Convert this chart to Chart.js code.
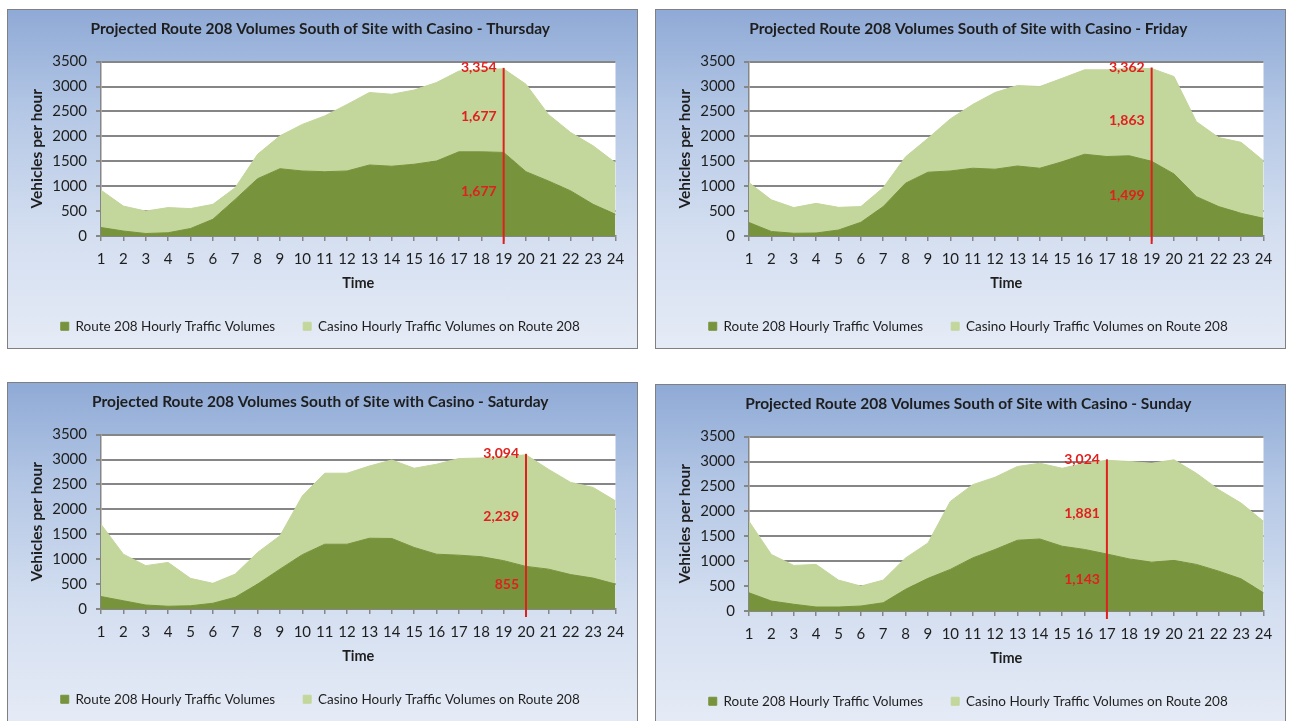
<!DOCTYPE html>
<html>
<head>
<meta charset="utf-8">
<title>Projected Route 208 Volumes South of Site with Casino</title>
<script src="https://cdn.jsdelivr.net/npm/chart.js@4.4.1/dist/chart.umd.min.js"></script>
<style>
  html, body { margin: 0; padding: 0; background: #fff; width: 1293px; height: 721px; overflow: hidden; }
  .panel {
    position: absolute; width: 629px; height: 338px;
    border: 1.5px solid #808080;
    background: linear-gradient(to bottom, #8faad6 0%, #b4c7e5 30%, #d3def0 65%, #e5ebf6 100%);
  }
  .panel canvas { position: absolute; left: 0; top: 0; }
</style>
</head>
<body>
<div class="panel" style="left:7px;top:9px"><canvas id="chart-0" width="629" height="338"></canvas></div>
<div class="panel" style="left:655px;top:9px"><canvas id="chart-1" width="629" height="338"></canvas></div>
<div class="panel" style="left:7px;top:382px"><canvas id="chart-2" width="629" height="338"></canvas></div>
<div class="panel" style="left:655px;top:384px"><canvas id="chart-3" width="629" height="338"></canvas></div>

<script>
/* Four stacked area charts, one per day.
   (vehicles per hour); casino volumes sit on top of the Route 208 volumes. */
const hours = ["1","2","3","4","5","6","7","8","9","10","11","12",
               "13","14","15","16","17","18","19","20","21","22","23","24"];

const thuRoute  = [170,100,50,65,150,335,735,1150,1350,1305,1290,1305,1425,1400,1440,1505,1690,1690,1677,1290,1105,905,635,435];
const thuCasino = [750,500,450,505,400,300,235,490,660,935,1120,1335,1455,1445,1490,1575,1620,1650,1677,1755,1335,1170,1175,1035];

const friRoute  = [270,90,55,60,120,275,590,1060,1280,1305,1360,1340,1405,1360,1490,1640,1595,1610,1499,1245,790,590,455,355];
const friCasino = [800,635,515,595,455,315,380,530,680,1045,1280,1540,1615,1640,1675,1695,1740,1755,1863,1955,1505,1385,1425,1155];

const satRoute  = [250,165,80,55,65,115,235,500,800,1090,1300,1300,1420,1415,1235,1100,1080,1050,970,855,800,690,620,500];
const satCasino = [1450,935,790,880,550,400,465,635,670,1180,1425,1425,1450,1575,1590,1805,1940,1980,2090,2239,2005,1850,1820,1670];

const sunRoute  = [365,200,135,80,80,100,165,435,655,835,1065,1235,1420,1445,1300,1235,1143,1045,980,1015,935,800,645,365];
const sunCasino = [1435,935,780,855,540,400,455,630,710,1365,1470,1450,1480,1520,1565,1730,1881,1955,1985,2020,1830,1635,1520,1435];

const days        = ["Thursday", "Friday", "Saturday", "Sunday"];
const routeByDay  = [thuRoute, friRoute, satRoute, sunRoute];
const casinoByDay = [thuCasino, friCasino, satCasino, sunCasino];
const markerHours = [19, 19, 20, 17];   // hour with the red peak line

const Y_MAX  = 3500;
const Y_STEP = 500;

const DARK_GREEN  = "#77933c";
const LIGHT_GREEN = "#c3d69b";
const RED         = "#e0201e";
const GRID_GRAY   = "#868686";
const INK         = "#1e1e1e";
const FONT        = "Lato, 'Open Sans', sans-serif";

/* ---------- plugins ---------- */

// white plot area on top of the panel gradient
const plotBackground = {
  id: "plotBackground",
  beforeDraw(chart) {
    const {ctx, chartArea: a} = chart;
    ctx.save();
    ctx.fillStyle = "#ffffff";
    ctx.fillRect(a.left, a.top, a.right - a.left, a.bottom - a.top);
    ctx.restore();
  }
};

// red vertical line at the peak hour with the three value labels
const peakMarker = {
  id: "peakMarker",
  afterDatasetsDraw(chart, args, opts) {
    const {ctx, scales: {x, y}} = chart;
    const i = opts.index;
    const route = chart.data.datasets[0].data[i];
    const casino = chart.data.datasets[1].data[i];
    const total = route + casino;
    const px = x.getPixelForValue(i);
    const fmt = v => v.toLocaleString("en-US");

    ctx.save();
    ctx.strokeStyle = RED;
    ctx.lineWidth = 2;
    ctx.beginPath();
    ctx.moveTo(px, y.getPixelForValue(total) - 1);
    ctx.lineTo(px, y.bottom + 8);
    ctx.stroke();

    ctx.fillStyle = RED;
    ctx.font = "bold 14px " + FONT;
    ctx.textAlign = "right";
    ctx.textBaseline = "middle";
    ctx.fillText(fmt(total), px - 7, y.getPixelForValue(total) - 1);
    ctx.fillText(fmt(casino), px - 7, y.getPixelForValue(route + casino / 2) + 6);
    ctx.fillText(fmt(route), px - 7, y.getPixelForValue(route / 2) - 3);
    ctx.restore();
  }
};

/* ---------- charts ---------- */

function makeChart(n) {
  const ctx = document.getElementById("chart-" + n).getContext("2d");
  return new Chart(ctx, {
    type: "line",
    data: {
      labels: hours,
      datasets: [
        {
          label: "Route 208 Hourly Traffic Volumes",
          data: routeByDay[n],
          backgroundColor: DARK_GREEN,
          borderColor: DARK_GREEN,
          borderWidth: 1,
          pointRadius: 0,
          fill: "origin",
        },
        {
          label: "Casino Hourly Traffic Volumes on Route 208",
          data: casinoByDay[n],
          backgroundColor: LIGHT_GREEN,
          borderColor: LIGHT_GREEN,
          borderWidth: 1,
          pointRadius: 0,
          fill: "-1",
        },
      ],
    },
    options: {
      responsive: false,
      animation: false,
      // left/right padding balanced so title and legend centre on the panel
      layout: { padding: { top: 0, right: 21.5, bottom: 5, left: 17 } },
      scales: {
        x: {
          offset: false,
          grid: { display: true, drawOnChartArea: false, drawTicks: true, tickLength: 5, color: GRID_GRAY, lineWidth: 1.5 },
          border: { color: GRID_GRAY, width: 1.5 },
          ticks: { color: INK, font: { family: FONT, size: 15 }, padding: 9, maxRotation: 0, autoSkip: false },
          title: { display: true, text: "Time", color: INK, font: { family: FONT, size: 14.5, weight: "bold" }, padding: { top: 0, bottom: -1 } },
          afterFit(scale) { scale.height = 55.5; },
        },
        y: {
          stacked: true,
          min: 0,
          max: Y_MAX,
          ticks: { stepSize: Y_STEP, color: INK, font: { family: FONT, size: 15 }, padding: 9, callback: v => String(v) },
          grid: { color: GRID_GRAY, lineWidth: 2, tickLength: 5 },
          border: { color: GRID_GRAY, width: 1.5 },
          title: { display: true, text: "Vehicles per hour", color: INK, font: { family: FONT, size: 15.5, weight: "bold" }, padding: { top: 3, bottom: 0 } },
          afterFit(scale) { scale.width = 76; },
        },
      },
      plugins: {
        title: {
          display: true,
          text: "Projected Route 208 Volumes South of Site with Casino - " + days[n],
          color: INK,
          font: { family: FONT, size: 15.5, weight: "bold" },
          padding: { top: 10, bottom: 23 },
        },
        legend: {
          position: "bottom",
          labels: { color: INK, font: { family: FONT, size: 13.5 }, boxWidth: 8, boxHeight: 8, padding: 28 },
        },
        tooltip: { enabled: false },
        peakMarker: { index: markerHours[n] - 1 },
      },
    },
    plugins: [plotBackground, peakMarker],
  });
}

days.forEach((d, n) => makeChart(n));
</script>
</body>
</html>
